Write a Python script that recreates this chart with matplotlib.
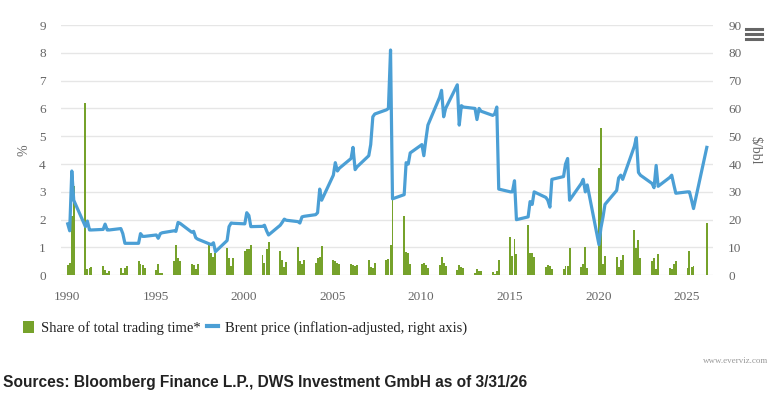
import matplotlib.pyplot as plt
from matplotlib.lines import Line2D
from matplotlib.patches import Patch

# one cluster of four observations per year, offsets within the year
years = list(range(1990, 2026))
slot_offsets = [0.04, 0.15, 0.27, 0.38]

share = [
    [0.37, 0.43, 2.15, 3.2],   # 1990
    [6.2, 0.22, 0.27, 0.3],
    [0.33, 0.2, 0.08, 0.14],
    [0.25, 0.1, 0.28, 0.32],
    [0.5, 0.4, 0.37, 0.25],
    [0.18, 0.4, 0.1, 0.1],     # 1995
    [0.5, 1.08, 0.62, 0.52],
    [0.4, 0.36, 0.22, 0.42],
    [1.1, 0.8, 0.65, 0.8],
    [0.97, 0.62, 0.35, 0.63],
    [0.88, 0.93, 0.93, 1.08],  # 2000
    [0.72, 0.45, 0.93, 1.2],
    [0.87, 0.55, 0.3, 0.47],
    [1.0, 0.5, 0.42, 0.55],
    [0.45, 0.62, 0.65, 1.05],
    [0.55, 0.5, 0.43, 0.4],    # 2005
    [0.4, 0.36, 0.32, 0.37],
    [0.55, 0.3, 0.25, 0.43],
    [0.54, 0.6, 1.08, 4.0],
    [2.15, 0.85, 0.8, 0.4],
    [0.42, 0.43, 0.38, 0.25],  # 2010
    [0.36, 0.65, 0.45, 0.35],
    [0.2, 0.38, 0.3, 0.25],
    [0.08, 0.22, 0.16, 0.16],
    [0.12, 0.06, 0.16, 0.54],
    [1.37, 0.7, 1.3, 0.78],    # 2015
    [1.8, 0.8, 0.8, 0.65],
    [0.29, 0.36, 0.34, 0.24],
    [0.23, 0.35, 0.35, 0.98],
    [0.31, 0.41, 1.03, 0.25],
    [3.85, 5.3, 0.4, 0.7],     # 2020
    [0.67, 0.3, 0.55, 0.73],
    [1.63, 0.97, 1.27, 0.61],
    [0.5, 0.62, 0.22, 0.78],
    [0.28, 0.22, 0.4, 0.52],
    [0.25, 0.88, 0.31, 0.33],  # 2025
]

brent = [
    [18.5, 16.0, 37.5, 27.0],  # 1990
    [17.5, 19.5, 16.3, 16.3],
    [16.5, 18.4, 16.3, 16.3],
    [16.8, 15.0, 11.5, 11.5],
    [11.5, 15.0, 14.0, 14.0],
    [14.5, 13.3, 15.0, 15.3],  # 1995
    [16.0, 15.8, 19.0, 18.7],
    [15.5, 15.8, 13.5, 13.0],
    [11.3, 11.0, 11.7, 8.5],
    [12.5, 17.5, 18.8, 18.7],
    [18.5, 22.5, 21.5, 17.5],  # 2000
    [17.6, 18.0, 16.0, 14.5],
    [18.0, 19.0, 20.2, 19.8],
    [19.3, 18.8, 21.0, 21.2],
    [21.8, 22.5, 31.0, 27.0],
    [36.0, 40.5, 37.5, 38.5],  # 2005
    [42.0, 46.0, 38.0, 39.0],
    [43.0, 47.0, 57.0, 58.0],
    [59.5, 60.0, 81.0, 27.5],
    [29.0, 40.5, 40.0, 44.0],
    [47.0, 43.0, 49.0, 54.0],  # 2010
    [64.0, 66.5, 57.0, 60.0],
    [68.5, 54.0, 61.0, 60.5],
    [60.0, 56.0, 60.0, 59.0],
    [57.5, 58.0, 60.5, 31.0],
    [30.0, 30.0, 34.0, 20.0],  # 2015
    [21.0, 26.5, 25.5, 30.0],
    [28.0, 27.0, 24.5, 34.5],
    [35.5, 40.0, 42.0, 27.0],
    [33.0, 34.5, 30.0, 32.5],
    [11.0, 17.0, 21.0, 25.5],  # 2020
    [30.5, 35.0, 36.0, 34.5],
    [46.4, 49.5, 37.0, 36.0],
    [33.0, 31.5, 39.5, 32.0],
    [35.2, 36.0, 32.5, 29.5],
    [30.0, 30.0, 27.0, 24.0],  # 2025
]

# latest observation (Q1 2026)
last_date = 2026.13
last_share = 1.88
last_brent = 46.0

dates, share_flat, brent_flat = [], [], []
for y, s_row, b_row in zip(years, share, brent):
    for off, s, b in zip(slot_offsets, s_row, b_row):
        dates.append(y + off)
        share_flat.append(s)
        brent_flat.append(b)
dates.append(last_date)
share_flat.append(last_share)
brent_flat.append(last_brent)

green = '#76a22b'
blue = '#4b9fd5'
grey = '#666666'

plt.rcParams['font.family'] = ['Liberation Serif', 'DejaVu Serif']

fig = plt.figure(figsize=(7.72, 3.96), dpi=100)
ax = fig.add_axes([61 / 772, 1 - 275.3 / 396, 652 / 772, 250.3 / 396])

ax.bar(dates, share_flat, width=0.11, color=green, linewidth=0, zorder=2)
ax.set_ylim(0, 9)
ax.set_xlim(1989.66, 2026.48)
ax.set_yticks(range(0, 10))
ax.set_xticks(range(1990, 2030, 5))
ax.grid(axis='y', color='#e6e6e6', linewidth=1)
ax.set_axisbelow(True)
for sp in ax.spines.values():
    sp.set_visible(False)
ax.tick_params(axis='both', length=0, labelsize=9.5, colors=grey, pad=11)
ax.set_ylabel('%', color=grey, fontsize=10, labelpad=6)

ax2 = ax.twinx()
ax2.plot(dates, brent_flat, color=blue, linewidth=2.3, solid_joinstyle='round', zorder=3)
ax2.set_ylim(0, 90)
ax2.set_yticks(range(0, 100, 10))
for sp in ax2.spines.values():
    sp.set_visible(False)
ax2.tick_params(axis='y', length=0, labelsize=9.5, colors=grey, pad=11)
ax2.set_ylabel('$/bbl', color=grey, fontsize=10, rotation=270, labelpad=14)

handles = [Patch(facecolor=green, edgecolor='none'),
           Line2D([], [], color=blue, linewidth=3)]
labels = ['Share of total trading time*', 'Brent price (inflation-adjusted, right axis)']
fig.legend(handles, labels, loc='center left', bbox_to_anchor=(10 / 772, 1 - 328 / 396),
           ncol=2, frameon=False, fontsize=10.5, handlelength=0.75, handleheight=0.9,
           handletextpad=0.5, columnspacing=0.4, labelcolor='#222222')

# export menu icon
for yy in (29, 34, 39):
    fig.add_artist(Line2D([746 / 772, 762 / 772], [1 - yy / 396] * 2,
                          color=grey, linewidth=2.2, transform=fig.transFigure))

fig.text(768 / 772, 1 - 361 / 396, 'www.everviz.com', ha='right', va='center',
         fontsize=6.5, color='#999999')
fig.text(3 / 772, 1 - 382 / 396, 'Sources: Bloomberg Finance L.P., DWS Investment GmbH as of 3/31/26',
         ha='left', va='center', fontsize=11.2, fontweight='bold', color='#222222',
         family=['Liberation Sans', 'DejaVu Sans'])

plt.savefig('out.png', dpi=100)
